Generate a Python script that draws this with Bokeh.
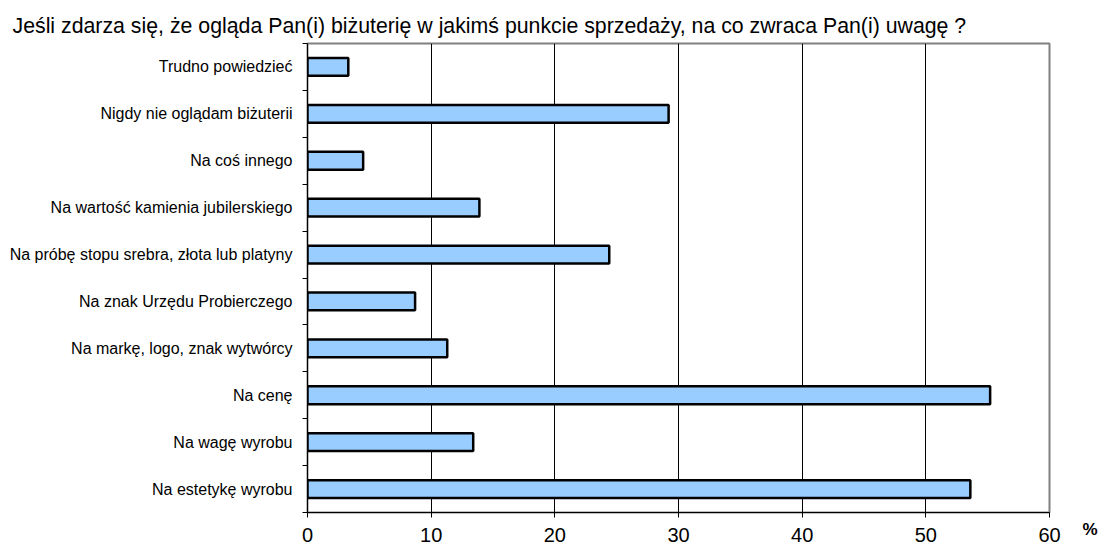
from bokeh.plotting import figure
from bokeh.models import Range1d, FixedTicker, LinearAxis
from bokeh.embed import file_html
from bokeh.resources import INLINE

title_text = "Jeśli zdarza się, że ogląda Pan(i) biżuterię w jakimś punkcie sprzedaży, na co zwraca Pan(i) uwagę ?"

# categories from bottom to top
categories = [
    "Na estetykę wyrobu",
    "Na wagę wyrobu",
    "Na cenę",
    "Na markę, logo, znak wytwórcy",
    "Na znak Urzędu Probierczego",
    "Na próbę stopu srebra, złota lub platyny",
    "Na wartość kamienia jubilerskiego",
    "Na coś innego",
    "Nigdy nie oglądam biżuterii",
    "Trudno powiedzieć",
]
values = [53.6, 13.4, 55.2, 11.3, 8.7, 24.4, 13.9, 4.5, 29.2, 3.3]
x_ticks = [0, 10, 20, 30, 40, 50, 60]
unit_label = "%"

FONT = "Liberation Sans"

n = len(categories)
centers = [i + 0.5 for i in range(n)]
bounds = [float(i) for i in range(n + 1)]

p = figure(
    width=1100, height=550,
    x_range=Range1d(0, 60), y_range=Range1d(0, n),
    output_backend="svg", toolbar_location=None,
    min_border_left=307, min_border_right=50,
    min_border_top=43, min_border_bottom=38,
)
p.background_fill_color = "white"
p.border_fill_color = "white"
p.outline_line_color = "#808080"
p.outline_line_width = 2

# title
p.title.text = title_text
p.title.align = "left"
p.title.offset = -295
p.title.standoff = 11
p.title.text_font = FONT
p.title.text_font_size = "21.3px"
p.title.text_font_style = "normal"
p.title.text_color = "black"

# grid
p.ygrid.visible = False
p.xgrid.ticker = FixedTicker(ticks=x_ticks[1:-1])
p.xgrid.grid_line_color = "black"
p.xgrid.grid_line_width = 1

# bars
p.hbar(y=centers, right=values, left=0, height=0.38,
       fill_color="#99CCFF", line_color="black", line_width=2.5)

# x axis
xa = p.xaxis[0]
xa.ticker = FixedTicker(ticks=x_ticks, minor_ticks=[])
xa.axis_line_color = "black"
xa.axis_line_width = 1
xa.major_tick_line_color = "black"
xa.major_tick_in = 0
xa.major_tick_out = 5
xa.minor_tick_line_color = None
xa.major_label_text_font = FONT
xa.major_label_text_font_size = "20px"
xa.major_label_text_color = "black"
xa.major_label_standoff = 10

# y axis
ya = p.yaxis[0]
ya.ticker = FixedTicker(ticks=centers, minor_ticks=bounds)
ya.major_label_overrides = {c: lab for c, lab in zip(centers, categories)}
ya.axis_line_color = "black"
ya.axis_line_width = 1
ya.major_tick_line_color = None
ya.major_tick_in = 0
ya.major_tick_out = 0
ya.minor_tick_line_color = "black"
ya.minor_tick_in = 0
ya.minor_tick_out = 5
ya.major_label_text_font = FONT
ya.major_label_text_font_size = "16px"
ya.major_label_text_color = "black"
ya.major_label_standoff = 10

# unit "%" at the bottom-right corner, via a label-only axis on the right;
# an empty first line pushes it just below the frame's bottom edge
p.extra_y_ranges = {"unit": Range1d(0, 1)}
ua = LinearAxis(y_range_name="unit", ticker=FixedTicker(ticks=[0], minor_ticks=[]))
ua.major_label_overrides = {0: "\n" + unit_label}
ua.axis_line_color = None
ua.major_tick_line_color = None
ua.minor_tick_line_color = None
ua.major_tick_in = 0
ua.major_tick_out = 0
ua.major_label_standoff = 33
ua.major_label_text_font = FONT
ua.major_label_text_font_size = "17px"
ua.major_label_text_font_style = "bold"
ua.major_label_text_color = "black"
ua.major_label_text_line_height = 1.8
p.add_layout(ua, "right")

open("out.html", "w").write(file_html(p, INLINE))
